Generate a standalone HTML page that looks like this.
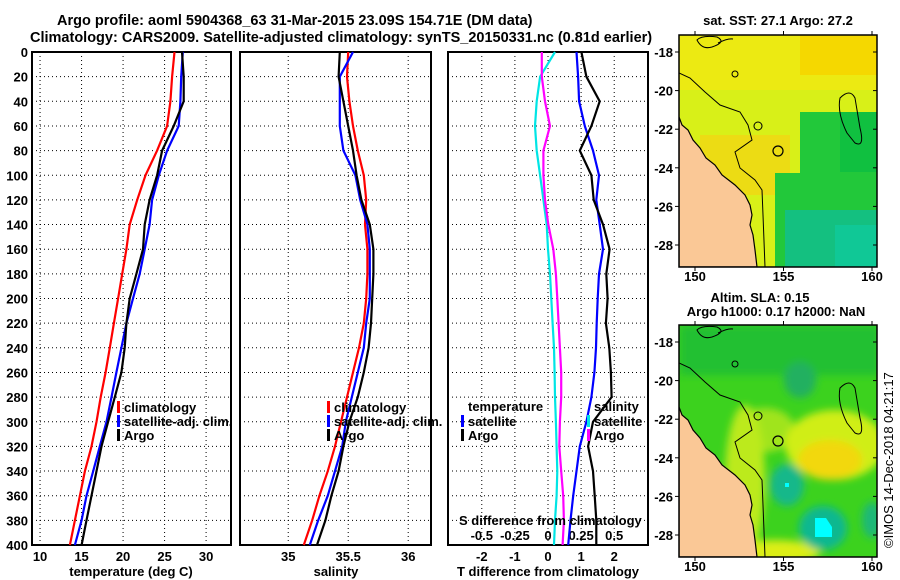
<!DOCTYPE html>
<html><head><meta charset="utf-8"><style>
html,body{margin:0;background:#fff;overflow:hidden;width:900px;height:580px;}
svg{display:block;font-family:"Liberation Sans",sans-serif;font-weight:bold;overflow:hidden;}
text{font-size:13px;fill:#000;}
</style></head><body>
<svg id="chart" width="900" height="580" viewBox="0 0 900 580" xmlns="http://www.w3.org/2000/svg">
<defs>
<filter id="blur" x="-50%" y="-50%" width="200%" height="200%"><feGaussianBlur stdDeviation="4"/></filter>
<clipPath id="clipM1"><rect x="679" y="35" width="198" height="232"/></clipPath>
<clipPath id="clipM2"><rect x="679" y="325" width="198" height="232"/></clipPath>
</defs>
<text x="57" y="25" style="font-size:14.5px">Argo profile: aoml 5904368_63 31-Mar-2015 23.09S 154.71E (DM data)</text>
<text x="30" y="42" style="font-size:14.5px">Climatology: CARS2009. Satellite-adjusted climatology: synTS_20150331.nc (0.81d earlier)</text>
<g id="plots"></g>
<g id="maps"></g>
<text transform="translate(893,548) rotate(-90)" style="font-size:13px;font-weight:normal">©IMOS 14-Dec-2018 04:21:17</text>
</svg>
<script>
const depths=[0,20,40,60,80,100,120,140,160,180,200,220,240,260,280,300,320,340,360,380,400];
const depthTicks=[0,20,40,60,80,100,120,140,160,180,200,220,240,260,280,300,320,340,360,380,400];
const tempClim=[26.2,25.9,25.7,25.3,24.1,22.7,21.7,20.8,20.4,19.9,19.4,18.9,18.4,17.9,17.3,16.8,16.2,15.4,14.8,14.2,13.6];
const tempSat=[27.2,27.0,26.9,26.7,25.3,24.3,23.5,23.2,22.6,22.0,21.2,20.4,19.8,19.2,18.6,18.0,17.2,16.4,15.6,15.0,14.2];
const tempArgo=[27.1,27.3,27.3,26.1,24.7,24.1,23.2,22.6,22.4,21.6,20.8,20.4,20.2,19.8,19.0,18.2,17.4,16.8,16.2,15.6,15.0];
const salClim=[35.50,35.49,35.51,35.54,35.58,35.63,35.65,35.64,35.66,35.66,35.65,35.63,35.59,35.54,35.49,35.44,35.39,35.33,35.26,35.20,35.13];
const salSat=[35.54,35.43,35.43,35.43,35.46,35.56,35.60,35.66,35.68,35.68,35.68,35.65,35.63,35.58,35.53,35.48,35.45,35.39,35.33,35.25,35.18];
const salArgo=[35.43,35.42,35.46,35.50,35.54,35.57,35.61,35.68,35.71,35.71,35.70,35.69,35.67,35.63,35.58,35.51,35.46,35.42,35.36,35.31,35.24];
const dTSat=[0.86,0.91,0.94,1.11,1.36,1.54,1.46,1.56,1.66,1.54,1.5,1.47,1.45,1.4,1.31,1.16,0.96,0.86,0.76,0.68,0.61];
const dTArgo=[1.01,1.16,1.56,1.31,0.96,1.31,1.38,1.66,1.86,1.76,1.8,1.75,1.85,1.9,1.92,1.36,1.21,1.36,1.41,1.46,1.46];
const dSSat=[0.053,-0.06,-0.085,-0.098,-0.085,-0.06,-0.035,-0.01,0.0,0.015,0.025,0.035,0.045,0.05,0.053,0.06,0.065,0.07,0.065,0.053,0.045];
const dSArgo=[-0.047,-0.047,-0.023,0.015,-0.035,-0.035,-0.023,0.002,0.04,0.06,0.07,0.08,0.09,0.1,0.1,0.09,0.085,0.1,0.115,0.12,0.11];
const tempTicks=[10,15,20,25,30];
const salTicks=[35,35.5,36];
const dTTicks=[-2,-1,0,1,2];
const dSTicks=[-0.5,-0.25,0,0.25,0.5];
const dSTickLabels=['-0.5','-0.25','0','0.25','0.5'];

const NS='http://www.w3.org/2000/svg';
const plots=document.getElementById('plots');
const maps=document.getElementById('maps');
function mk(tag,attrs,parent){const e=document.createElementNS(NS,tag);for(const k in attrs)e.setAttribute(k,attrs[k]);(parent||plots).appendChild(e);return e;}
const Y0=52,Y1=545;
function yD(d){return Y0+(d/400)*(Y1-Y0);}
const panels=[
 {x0:32,x1:231,min:9.03,max:33.0},
 {x0:240,x1:431,min:34.598,max:36.19},
 {x0:448,x1:648,min:-3.02,max:3.02}
];
function xf(p,v){return p.x0+(v-p.min)/(p.max-p.min)*(p.x1-p.x0);}
const pS={x0:448,x1:648,min:-0.755,max:0.755};

panels.forEach((p,i)=>{
  depthTicks.forEach(d=>{
    if(d>0&&d<400){const g=mk('line',{x1:p.x0,x2:p.x1,y1:yD(d),y2:yD(d),stroke:'#000','stroke-width':1,'stroke-dasharray':'1,3'});
    }
  });
  const ticks=i===0?tempTicks:i===1?salTicks:dTTicks;
  ticks.forEach(t=>{
    const x=xf(p,t);
    const g=mk('line',{x1:x,x2:x,y1:Y0,y2:Y1,stroke:'#000','stroke-width':1,'stroke-dasharray':'1,3'});
    
    const lb=mk('text',{x:x,y:561,'text-anchor':'middle'});lb.textContent=String(t);
    
  });
  const r=mk('rect',{x:p.x0,y:Y0,width:p.x1-p.x0,height:Y1-Y0,fill:'none',stroke:'#000','stroke-width':2});
  
});
depthTicks.forEach(d=>{
  const t=mk('text',{x:28,y:yD(d)+5,'text-anchor':'end'});t.textContent=String(d);
  
});
dSTicks.forEach((s,i)=>{
  const t=mk('text',{x:xf(pS,s),y:540,'text-anchor':'middle'});t.textContent=dSTickLabels[i];
  
});
function series(p,vals,color,name){
  const pts=vals.map((v,i)=>xf(p,v).toFixed(1)+','+yD(depths[i]).toFixed(1)).join(' ');
  const l=mk('polyline',{points:pts,fill:'none',stroke:color,'stroke-width':2.2,'stroke-linejoin':'miter'});
  
}
series(panels[0],tempClim,'#ff0000','temp-climatology-line');
series(panels[0],tempSat,'#0000ff','temp-satellite-line');
series(panels[0],tempArgo,'#000000','temp-argo-line');
series(panels[1],salClim,'#ff0000','sal-climatology-line');
series(panels[1],salSat,'#0000ff','sal-satellite-line');
series(panels[1],salArgo,'#000000','sal-argo-line');
series(pS,dSSat,'#00e5e5','sdiff-satellite-line');
series(pS,dSArgo,'#ff00ff','sdiff-argo-line');
series(panels[2],dTSat,'#0000ff','tdiff-satellite-line');
series(panels[2],dTArgo,'#000000','tdiff-argo-line');

function legend(x,y,color,label,name){
  if(color){const m=mk('rect',{x:x,y:y-11,width:3,height:12,fill:color});
  }
  const t=mk('text',{x:x+7,y:y});t.textContent=label;
  
}
legend(117,412,'#ff0000','climatology','legend-temp-climatology');
legend(117,426,'#0000ff','satellite-adj. clim.','legend-temp-satellite');
legend(117,440,'#000000','Argo','legend-temp-argo');
legend(327,412,'#ff0000','climatology','legend-sal-climatology');
legend(327,426,'#0000ff','satellite-adj. clim.','legend-sal-satellite');
legend(327,440,'#000000','Argo','legend-sal-argo');
legend(461,411,null,'temperature','legend-tdiff-title');
legend(461,426,'#0000ff','satellite','legend-tdiff-satellite');
legend(461,440,'#000000','Argo','legend-tdiff-argo');
legend(587,411,null,'salinity','legend-sdiff-title');
legend(587,426,'#00e5e5','satellite','legend-sdiff-satellite');
legend(587,440,'#ff00ff','Argo','legend-sdiff-argo');
function label(x,y,txt,name,anchor){const t=mk('text',{x:x,y:y,'text-anchor':anchor||'middle'});t.textContent=txt;
  }
label(459,525,'S difference from climatology','s-diff-axis-title','start');
label(131,576,'temperature (deg C)','temp-axis-title');
label(336,576,'salinity','salinity-axis-title');
label(548,576,'T difference from climatology','t-diff-axis-title');

// ---- maps ----
const mapLats=[-18,-20,-22,-24,-26,-28];
const mapLons=[150,155,160];
function lonX(l){return 695+(l-150)*17.7;}
function latY(l,top){return top+(-18-l)*19.3;}
function drawMap(top,y0,kind){
  const g=mk('g',{'clip-path':'url(#clipM'+kind+')'},maps);
  
  const o=y0-35;
  if(kind===1){
    mk('rect',{x:679,y:y0,width:198,height:232,fill:'#d8f018'},g);
    mk('rect',{x:679,y:y0,width:198,height:55,fill:'#ecea12'},g);
    mk('rect',{x:800,y:y0,width:77,height:40,fill:'#f5d800'},g);
    mk('rect',{x:700,y:y0+100,width:90,height:60,fill:'#ecdc14'},g);
    mk('polygon',{points:`800,${o+112} 877,${o+112} 877,${o+267} 775,${o+267} 775,${o+173} 800,${o+173}`,fill:'#22c83a'},g);
    mk('rect',{x:840,y:o+112,width:37,height:60,fill:'#10c040'},g);
    mk('rect',{x:785,y:o+210,width:92,height:57,fill:'#14c080'},g);
    mk('rect',{x:835,y:o+225,width:42,height:42,fill:'#10c896'},g);
  } else {
    mk('rect',{x:679,y:y0,width:198,height:232,fill:'#3cd21e'},g);
    const b=mk('g',{filter:'url(#blur)'},g);
    mk('rect',{x:680,y:325,width:200,height:50,fill:'#22c032'},b);
    mk('ellipse',{cx:800,cy:380,rx:16,ry:18,fill:'#20b060'},b);
    mk('ellipse',{cx:765,cy:430,rx:30,ry:22,fill:'#a0e41e'},b);
    mk('ellipse',{cx:835,cy:445,rx:50,ry:35,fill:'#d0ee14'},b);
    mk('ellipse',{cx:830,cy:460,rx:32,ry:20,fill:'#f2d808'},b);
    mk('ellipse',{cx:745,cy:480,rx:20,ry:75,fill:'#bcea1c'},b);
    mk('ellipse',{cx:775,cy:552,rx:45,ry:12,fill:'#dcee14'},b);
    mk('ellipse',{cx:787,cy:485,rx:17,ry:21,fill:'#12b88a'},b);
    mk('ellipse',{cx:823,cy:528,rx:24,ry:22,fill:'#10b890'},b);
    mk('ellipse',{cx:872,cy:520,rx:10,ry:18,fill:'#1eb878'},b);
    mk('rect',{x:785,y:483,width:4,height:4,fill:'#00ffff'},g);
    mk('polygon',{points:`815,518 826,518 832,527 832,537 815,537`,fill:'#00ffff'},g);
  }
  const land=`679,${o+117} 682,${o+125} 688,${o+130} 693,${o+140} 700,${o+148} 706,${o+158} 715,${o+165} 722,${o+175} 735,${o+185} 745,${o+195} 750,${o+205} 752,${o+215} 750,${o+225} 753,${o+235} 755,${o+250} 757,${o+267} 679,${o+267}`;
  mk('polygon',{points:land,fill:'#fac896',stroke:'#000','stroke-width':1.2},g);
  mk('polyline',{points:`679,${o+73} 690,${o+78} 705,${o+92} 720,${o+105} 740,${o+112} 748,${o+125} 752,${o+140} 735,${o+152} 740,${o+168} 755,${o+180} 762,${o+190} 763,${o+215} 765,${o+267}`,fill:'none',stroke:'#000','stroke-width':1},g);
  mk('path',{d:`M840,${o+98} q10,-10 15,0 l5,30 q5,20 -5,15 l-8,-10 q-10,-20 -7,-35z`,fill:'none',stroke:'#000','stroke-width':1},g);
  mk('circle',{cx:778,cy:o+151,r:5,fill:'none',stroke:'#000','stroke-width':1.2},g);
  mk('circle',{cx:735,cy:o+74,r:3,fill:'none',stroke:'#000','stroke-width':1},g);
  mk('circle',{cx:758,cy:o+126,r:4,fill:'none',stroke:'#000','stroke-width':1},g);
  mk('path',{d:`M697,${o+40} q5,-5 20,-3 q10,5 -5,10 q-10,3 -15,-7z M718,${o+43} q10,-5 15,-4`,fill:'none',stroke:'#000','stroke-width':1},g);
  const fr=mk('rect',{x:679,y:y0,width:198,height:232,fill:'none',stroke:'#000','stroke-width':1.5},maps);
  
  mapLats.forEach(l=>{
    const y=latY(l,top);
    mk('line',{x1:679,x2:675,y1:y,y2:y,stroke:'#000'},maps);
    mk('line',{x1:877,x2:873,y1:y,y2:y,stroke:'#000'},maps);
    const t=mk('text',{x:673,y:y+5,'text-anchor':'end'},maps);t.textContent=String(l);
    
  });
  mapLons.forEach(l=>{
    const x=lonX(l);
    mk('line',{x1:x,x2:x,y1:y0,y2:y0-4,stroke:'#000'},maps);
    mk('line',{x1:x,x2:x,y1:y0+232,y2:y0+236,stroke:'#000'},maps);
    const t=mk('text',{x:x,y:y0+246,'text-anchor':'middle'},maps);t.textContent=String(l);
    
  });
}
drawMap(52,35,1);
drawMap(342,325,2);
function mlabel(x,y,txt,name){const t=mk('text',{x:x,y:y,'text-anchor':'middle'},maps);t.textContent=txt;
  }
mlabel(778,25,'sat. SST: 27.1 Argo: 27.2','sst-map-title');
mlabel(760,302,'Altim. SLA: 0.15','sla-map-title');
mlabel(776,316,'Argo h1000: 0.17 h2000: NaN','argo-height-title');
</script>
</body></html>
